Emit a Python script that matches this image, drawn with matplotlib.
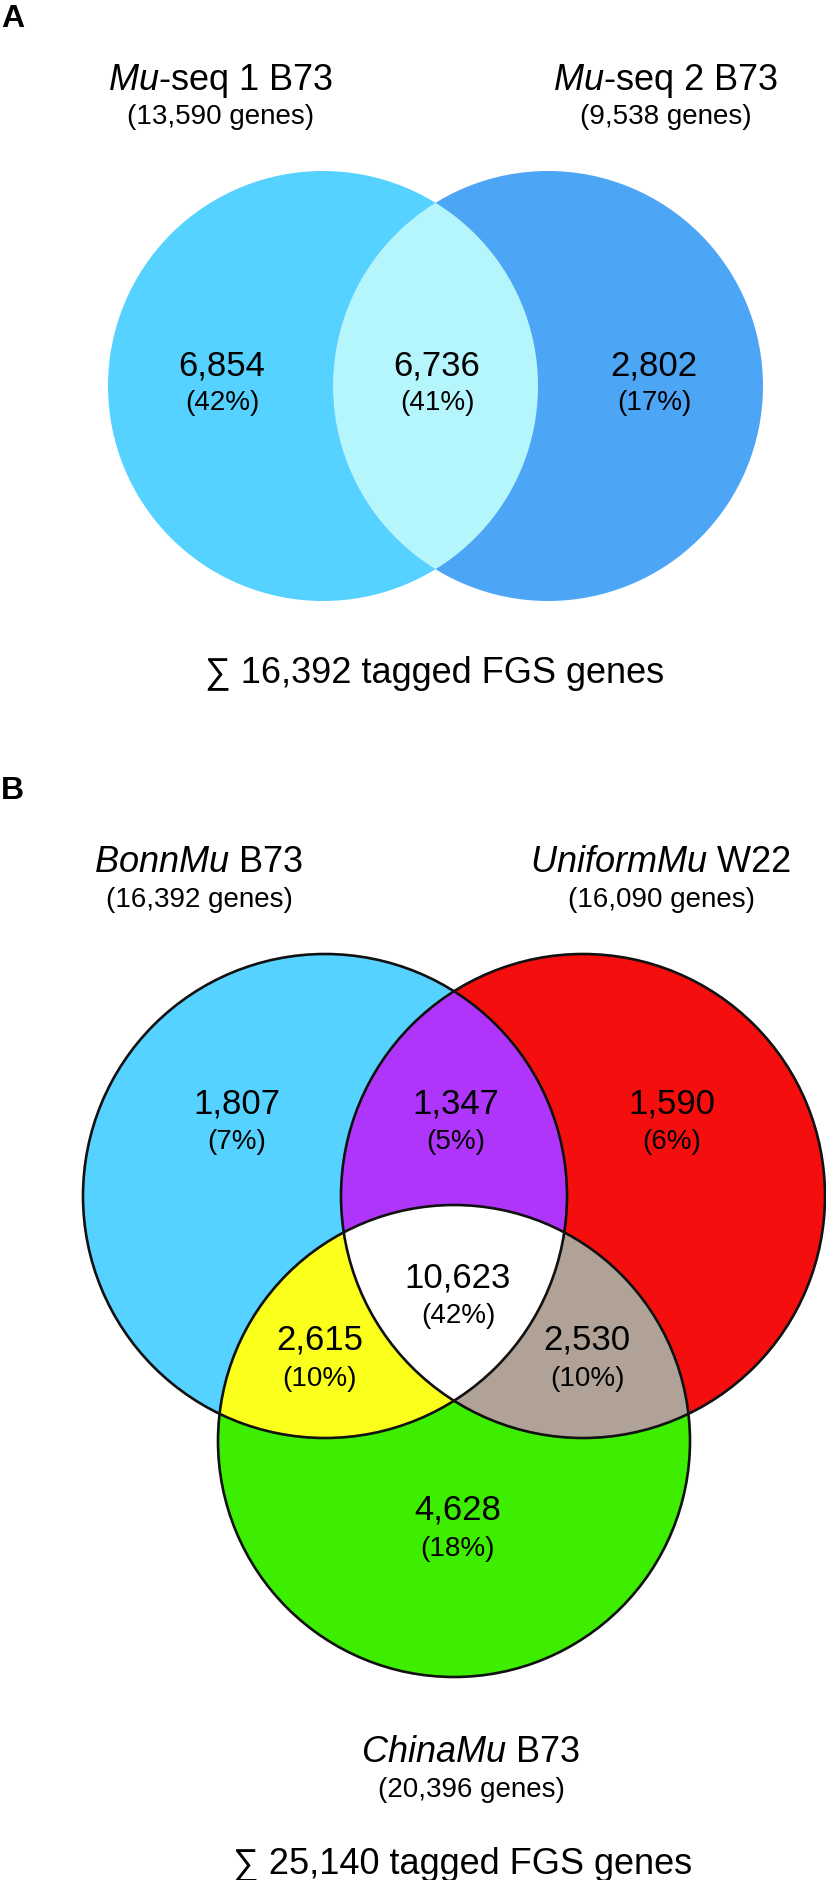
import numpy as np
import matplotlib.pyplot as plt
from matplotlib.patches import Circle, Polygon

plt.rcParams['font.family'] = ['Liberation Sans', 'DejaVu Sans']
plt.rcParams['mathtext.fontset'] = 'custom'
plt.rcParams['mathtext.rm'] = 'Liberation Sans'
plt.rcParams['mathtext.it'] = 'Liberation Sans:italic'

# --- Panel A: two Mu-seq B73 sets ---
a_set_italic = ["Mu", "Mu"]
a_set_rest = ["-seq 1 B73", "-seq 2 B73"]
a_set_sizes = [13590, 9538]
a_regions = [(0,), (0, 1), (1,)]
a_counts = [6854, 6736, 2802]
a_pct = [42, 41, 17]
a_total = 16392

# --- Panel B: three populations ---
b_set_italic = ["BonnMu", "UniformMu", "ChinaMu"]
b_set_rest = [" B73", " W22", " B73"]
b_set_sizes = [16392, 16090, 20396]
b_regions = [(0,), (0, 1), (1,), (0, 1, 2), (0, 2), (1, 2), (2,)]
b_counts = [1807, 1347, 1590, 10623, 2615, 2530, 4628]
b_pct = [7, 5, 6, 42, 10, 10, 18]
b_total = 25140

# layout (pixel coordinates, y downwards)
W, H = 826, 1880
a_circles = [((323, 386), 215), ((548, 386), 215)]
a_colors = ['#55D2FF', '#4DA5F5']
a_overlap_color = '#B5F6FC'
a_title_pos = [(221, 90), (666, 90)]
a_label_pos = [(222, 375), (437, 375), (654, 375)]

b_circles = [((325, 1196), 242), ((583, 1196), 242), ((454, 1441), 236)]
b_colors = ['#55D2FF', '#F40E0E', '#3DEE00']
b_pair_colors = {(0, 1): '#B035FB', (0, 2): '#FBFF1C', (1, 2): '#B0A296'}
b_title_pos = [(199, 872), (661, 872), (471, 1762)]
b_label_pos = [(237, 1113), (456, 1113), (672, 1113), (458, 1287),
               (320, 1350), (587, 1350), (458, 1520)]


def intersection_polygon(circles, idx):
    # convex intersection of the chosen circles, sampled along each boundary
    pts = []
    t = np.linspace(0, 2 * np.pi, 1440, endpoint=False)
    for i in idx:
        (cx, cy), r = circles[i]
        p = np.column_stack([cx + r * np.cos(t), cy + r * np.sin(t)])
        keep = np.ones(len(p), bool)
        for j in idx:
            if j == i:
                continue
            (dx, dy), r2 = circles[j]
            keep &= np.hypot(p[:, 0] - dx, p[:, 1] - dy) <= r2 + 1e-9
        pts.append(p[keep])
    pts = np.vstack(pts)
    m = pts.mean(axis=0)
    ang = np.arctan2(pts[:, 1] - m[1], pts[:, 0] - m[0])
    return pts[np.argsort(ang)]


fig = plt.figure(figsize=(W / 100, H / 100), dpi=100)
ax = fig.add_axes([0, 0, 1, 1])
ax.set_xlim(0, W)
ax.set_ylim(H, 0)
ax.axis('off')

num_fs, pct_fs, title_fs, sub_fs, sum_fs = 25, 20, 26, 20, 26

# Panel A
ax.text(1, 4, "A", fontsize=23, fontweight='bold', va='top', ha='left',
        family=['Liberation Sans Narrow', 'Liberation Sans'])
for (c, r), col in zip(a_circles, a_colors):
    ax.add_patch(Circle(c, r, facecolor=col, edgecolor='none'))
ax.add_patch(Polygon(intersection_polygon(a_circles, (0, 1)), closed=True,
                     facecolor=a_overlap_color, edgecolor='none'))
for it, rest, n, (x, y) in zip(a_set_italic, a_set_rest, a_set_sizes, a_title_pos):
    ax.text(x, y, r"$\mathit{%s}$%s" % (it, rest), fontsize=title_fs, ha='center', va='baseline')
    ax.text(x, y + 34, f"({n:,} genes)", fontsize=sub_fs, ha='center', va='baseline')
for n, p, (x, y) in zip(a_counts, a_pct, a_label_pos):
    ax.text(x, y, f"{n:,}", fontsize=num_fs, ha='center', va='baseline')
    ax.text(x, y + 35, f"({p}%)", fontsize=pct_fs, ha='center', va='baseline')
ax.text(435, 683, f"\u2211 {a_total:,} tagged FGS genes", fontsize=sum_fs,
        ha='center', va='baseline')

# Panel B
ax.text(1, 776, "B", fontsize=23, fontweight='bold', va='top', ha='left',
        family=['Liberation Sans Narrow', 'Liberation Sans'])
for (c, r), col in zip(b_circles, b_colors):
    ax.add_patch(Circle(c, r, facecolor=col, edgecolor='none'))
for pair, col in b_pair_colors.items():
    ax.add_patch(Polygon(intersection_polygon(b_circles, pair), closed=True,
                         facecolor=col, edgecolor='none'))
ax.add_patch(Polygon(intersection_polygon(b_circles, (0, 1, 2)), closed=True,
                     facecolor='white', edgecolor='none'))
for c, r in b_circles:
    ax.add_patch(Circle(c, r, facecolor='none', edgecolor='#111111', linewidth=1.9))
for it, rest, n, (x, y) in zip(b_set_italic, b_set_rest, b_set_sizes, b_title_pos):
    ax.text(x, y, r"$\mathit{%s}$%s" % (it, rest), fontsize=title_fs, ha='center', va='baseline')
    ax.text(x, y + 35, f"({n:,} genes)", fontsize=sub_fs, ha='center', va='baseline')
for n, p, (x, y) in zip(b_counts, b_pct, b_label_pos):
    ax.text(x, y, f"{n:,}", fontsize=num_fs, ha='center', va='baseline')
    ax.text(x, y + 36, f"({p}%)", fontsize=pct_fs, ha='center', va='baseline')
ax.text(463, 1874, f"\u2211 {b_total:,} tagged FGS genes", fontsize=sum_fs,
        ha='center', va='baseline')

fig.savefig("out.png", dpi=100)
